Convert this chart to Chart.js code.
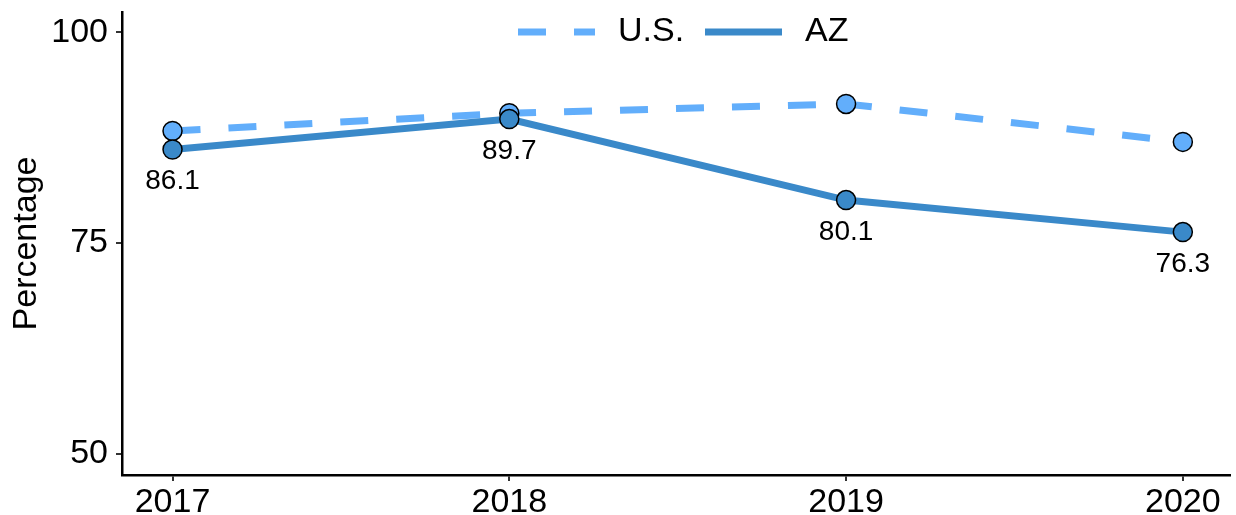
<!DOCTYPE html>
<html>
<head>
<meta charset="utf-8">
<script src="https://cdn.jsdelivr.net/npm/chart.js@4/dist/chart.umd.min.js"></script>
<style>
  html, body { margin: 0; padding: 0; background: #fff; }
  #wrap { width: 1236px; height: 515px; }
</style>
</head>
<body>
<div id="wrap"><canvas id="chart-pct" width="1236" height="515"></canvas></div>
<script>
const years = [2017, 2018, 2019, 2020];
const us_values = [88.3, 90.4, 91.5, 87.0];
const az_values = [86.1, 89.7, 80.1, 76.3];
const y_ticks = [50, 75, 100];

const warna_us = '#62AEFB';
const warna_az = '#3A89C9';
const font_family = '"Liberation Sans", Arial, sans-serif';

const ctx_pct = document.getElementById('chart-pct');

// legend drawn by hand so it can show dashed / solid lines
const legend_garis = {
    id: 'legend_garis',
    afterDraw(chart) {
        const c = chart.ctx;
        const items = [
            { label: 'U.S.', color: warna_us, dash: [28, 28], x0: 518, x1: 595, tx: 618 },
            { label: 'AZ', color: warna_az, dash: [], x0: 705, x1: 782, tx: 805 }
        ];
        const y = 32;
        c.save();
        items.forEach(function(it){
            c.beginPath();
            c.setLineDash(it.dash);
            c.lineWidth = 7;
            c.strokeStyle = it.color;
            c.moveTo(it.x0, y);
            c.lineTo(it.x1, y);
            c.stroke();
            c.setLineDash([]);
            c.fillStyle = '#000';
            c.font = '34px ' + font_family;
            c.textBaseline = 'middle';
            c.textAlign = 'left';
            c.fillText(it.label, it.tx, y);
        });
        c.restore();
    }
};

// value labels under the AZ points
const label_az = {
    id: 'label_az',
    afterDatasetsDraw(chart) {
        const meta = chart.getDatasetMeta(1);
        const c = chart.ctx;
        c.save();
        c.fillStyle = '#000';
        c.font = '28px ' + font_family;
        c.textAlign = 'center';
        c.textBaseline = 'middle';
        meta.data.forEach(function(pt, i){
            c.fillText(az_values[i].toFixed(1), pt.x, pt.y + 32);
        });
        c.restore();
    }
};

const chart_pct = new Chart(ctx_pct, {
    type: 'line',
    data: {
        datasets: [{
            label: 'U.S.',
            data: years.map((t, i) => ({ x: t, y: us_values[i] })),
            borderColor: warna_us,
            backgroundColor: warna_us,
            borderWidth: 7,
            borderDash: [28, 28],
            pointRadius: 9.5,
            pointBorderColor: '#000',
            pointBorderWidth: 1.5,
            pointBackgroundColor: warna_us,
            tension: 0,
            order: 2
        }, {
            label: 'AZ',
            data: years.map((t, i) => ({ x: t, y: az_values[i] })),
            borderColor: warna_az,
            backgroundColor: warna_az,
            borderWidth: 7,
            pointRadius: 9.5,
            pointBorderColor: '#000',
            pointBorderWidth: 1.5,
            pointBackgroundColor: warna_az,
            tension: 0,
            order: 1
        }]
    },
    options: {
        responsive: false,
        animation: false,
        layout: { autoPadding: false, padding: { top: 12, right: 6, left: 0, bottom: 0 } },
        plugins: {
            legend: { display: false },
            tooltip: { enabled: false }
        },
        scales: {
            x: {
                type: 'linear',
                min: 2016.85,
                max: 2020.14,
                afterBuildTicks: function(axis){ axis.ticks = years.map(v => ({ value: v })); },
                afterFit: function(axis){
                    axis.height = 40;
                    axis.paddingLeft = 0;
                    axis.paddingRight = 0;
                },
                grid: { display: true, drawOnChartArea: false, drawTicks: true, tickLength: 6, color: '#333', lineWidth: 2 },
                border: { display: true, color: '#000', width: 2.5 },
                ticks: {
                    color: '#000',
                    padding: 1,
                    maxRotation: 0,
                    font: { size: 34, family: font_family },
                    callback: v => String(v)
                }
            },
            y: {
                type: 'linear',
                min: 47.5,
                max: 102.4,
                afterBuildTicks: function(axis){ axis.ticks = y_ticks.map(v => ({ value: v })); },
                afterFit: function(axis){
                    axis.width = 122;
                    axis.paddingTop = 0;
                    axis.paddingBottom = 0;
                },
                grid: { display: true, drawOnChartArea: false, drawTicks: true, tickLength: 6, color: '#333', lineWidth: 2 },
                border: { display: true, color: '#000', width: 2.5 },
                title: {
                    display: true,
                    text: 'Percentage',
                    color: '#000',
                    padding: 6,
                    font: { size: 34, family: font_family }
                },
                ticks: {
                    color: '#000',
                    padding: 8,
                    font: { size: 34, family: font_family }
                }
            }
        }
    },
    plugins: [legend_garis, label_az]
});
</script>
</body>
</html>
